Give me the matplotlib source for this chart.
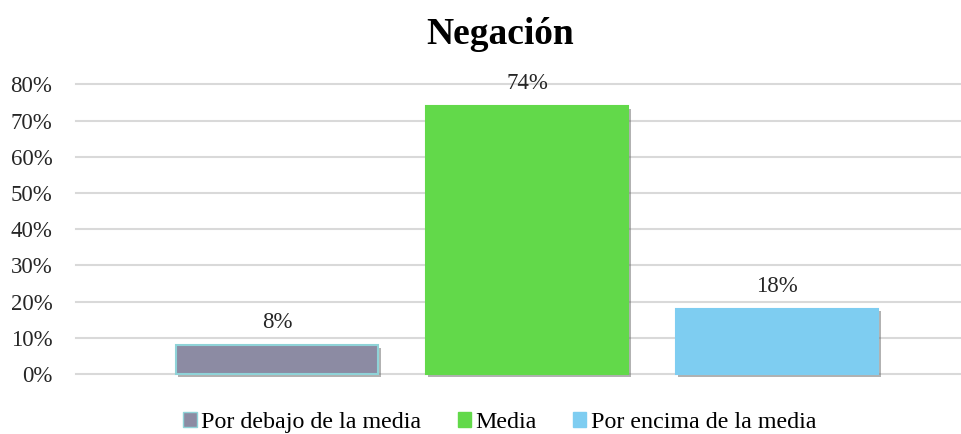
import matplotlib
matplotlib.use("Agg")
import matplotlib.pyplot as plt
import matplotlib.patheffects as pe
from matplotlib.patches import Patch

categories = ["Por debajo de la media", "Media", "Por encima de la media"]
values = [0.08, 0.74, 0.18]
labels = ["8%", "74%", "18%"]
yticks = [0, 0.1, 0.2, 0.3, 0.4, 0.5, 0.6, 0.7, 0.8]
ytick_labels = ["0%", "10%", "20%", "30%", "40%", "50%", "60%", "70%", "80%"]
title = "Negación"

colors = ["#8c8ba3", "#62d94a", "#7ecdf1"]
edges = ["#8fd3d8", "#62d94a", "#7ecdf1"]

plt.rcParams["font.family"] = ["Liberation Serif", "DejaVu Serif"]

fig = plt.figure(figsize=(9.62, 4.34), dpi=100)
ax = fig.add_axes([76/962, 60/434, 1 - 76/962, (374-84.3)/434])

x = list(range(len(categories)))
bars = ax.bar(x, values, width=0.81, color=colors, edgecolor=edges, linewidth=1.5, zorder=3)
for b in bars:
    b.set_clip_on(False)
    b.set_path_effects([pe.SimplePatchShadow(offset=(1.8, -1.8), shadow_rgbFace="#666666", alpha=0.5), pe.Normal()])

for xi, v, lab in zip(x, values, labels):
    ax.annotate(lab, (xi, v), xytext=(0, 8.5), textcoords="offset points",
                ha="center", va="bottom", fontsize=16.5, color="#262626")

ax.set_xlim(-(277-76)/250, (962-277)/250)
ax.set_ylim(0, 0.8)
ax.set_yticks(yticks)
ax.set_yticklabels(ytick_labels, fontsize=16.5, color="#262626")
ax.set_xticks([])
ax.tick_params(axis="y", length=0, pad=17)
ax.grid(axis="y", color="#d9d9d9", linewidth=1.5, zorder=0)
for gl in ax.get_ygridlines():
    gl.set_clip_on(False)
for s in ax.spines.values():
    s.set_visible(False)

fig.text(500/962, (434-44)/434, title, ha="center", va="baseline", fontsize=27, fontweight="bold")

handles = [Patch(facecolor=c, edgecolor=e, linewidth=1) for c, e in zip(colors, edges)]
fig.legend(handles, categories, loc="center", bbox_to_anchor=(500/962, 11.5/434), ncol=3,
           frameon=False, fontsize=17.3, handlelength=0.55, handleheight=0.55,
           handletextpad=0.2, columnspacing=1.5, borderaxespad=0)

fig.savefig("out.png", dpi=100)
